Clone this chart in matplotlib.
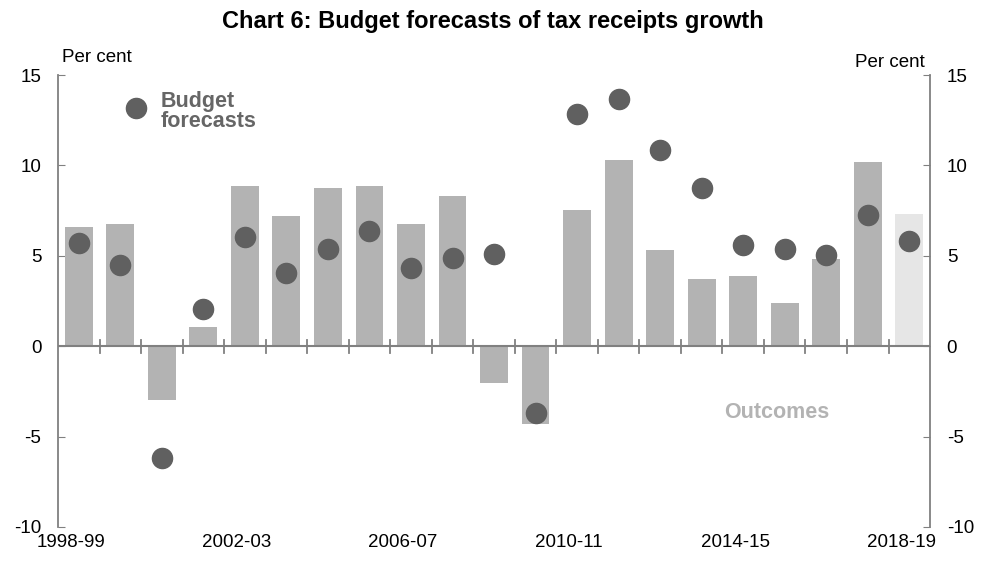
import matplotlib.pyplot as plt
import matplotlib.transforms as mtransforms
import numpy as np

plt.rcParams['font.family'] = ['Liberation Sans', 'DejaVu Sans']
plt.rcParams['axes.unicode_minus'] = False

years = ['1998-99', '1999-00', '2000-01', '2001-02', '2002-03', '2003-04', '2004-05',
         '2005-06', '2006-07', '2007-08', '2008-09', '2009-10', '2010-11', '2011-12',
         '2012-13', '2013-14', '2014-15', '2015-16', '2016-17', '2017-18', '2018-19']
outcomes = [6.6, 6.75, -3.0, 1.05, 8.85, 7.2, 8.75, 8.85, 6.75, 8.3, -2.05, -4.3,
            7.55, 10.3, 5.3, 3.7, 3.9, 2.4, 4.8, 10.2, 7.3]
forecasts = [5.7, 4.5, -6.2, 2.05, 6.05, 4.05, 5.35, 6.35, 4.35, 4.9, 5.1, -3.7,
             12.85, 13.7, 10.85, 8.75, 5.6, 5.35, 5.05, 7.25, 5.8]
label_years = ['1998-99', '2002-03', '2006-07', '2010-11', '2014-15', '2018-19']

GREY = '#808080'
x = np.arange(len(years))
colors = ['#b3b3b3'] * (len(years) - 1) + ['#e6e6e6']

fig = plt.figure(figsize=(9.85, 5.62), dpi=100)
ax = fig.add_axes([0.0589, 0.0623, 0.8853, 0.8042])

ax.bar(x, outcomes, width=0.67, color=colors, zorder=2)
ax.plot(x, forecasts, 'o', color='#606060', markersize=14.5, zorder=3)
ax.axhline(0, color=GREY, lw=1.5, zorder=4)

ax.set_xlim(-0.5, len(years) - 0.5)
ax.set_ylim(-10, 15)
ax.set_yticks(np.arange(-10, 16, 5))
ax.tick_params(axis='y', direction='in', length=5, color=GREY, labelsize=13.5, pad=12)

# category ticks on the zero line
for b in np.arange(0.5, len(years) - 1, 1.0):
    ax.plot([b, b], [-0.35, 0.35], color=GREY, lw=1.3, zorder=4)

ax.set_xticks([years.index(y) for y in label_years])
ax.set_xticklabels(label_years, fontsize=13.5)
ax.tick_params(axis='x', length=0, pad=5)
shift = mtransforms.ScaledTranslation(-8 / 100, 0, fig.dpi_scale_trans)
for lbl in ax.get_xticklabels():
    lbl.set_transform(lbl.get_transform() + shift)

for s in ['top', 'bottom']:
    ax.spines[s].set_visible(False)
for s in ['left', 'right']:
    ax.spines[s].set_color(GREY)
    ax.spines[s].set_linewidth(1.3)

ax2 = ax.twinx()
ax2.set_ylim(-10, 15)
ax2.set_yticks(np.arange(-10, 16, 5))
ax2.tick_params(axis='y', direction='in', length=5, color=GREY, labelsize=13.5, pad=12)
for s in ['top', 'bottom', 'left', 'right']:
    ax2.spines[s].set_visible(False)

fig.text(0.063, 0.897, 'Per cent', fontsize=13.5, va='center')
fig.text(0.939, 0.888, 'Per cent', fontsize=13.5, ha='right', va='center')

ax.plot([1.38], [13.2], 'o', color='#606060', markersize=14.5, zorder=3)
ax.text(1.96, 13.0, 'Budget\nforecasts', fontsize=15.5, fontweight='bold',
        color='#666666', va='center', ha='left', multialignment='left',
        linespacing=0.95)
ax.text(16.82, -3.65, 'Outcomes', fontsize=15.5, fontweight='bold',
        color='#b3b3b3', va='center', ha='center')

fig.text(0.5, 0.961, 'Chart 6: Budget forecasts of tax receipts growth', fontsize=17,
         fontweight='bold', ha='center', va='center')

plt.savefig('out.png', dpi=100)
